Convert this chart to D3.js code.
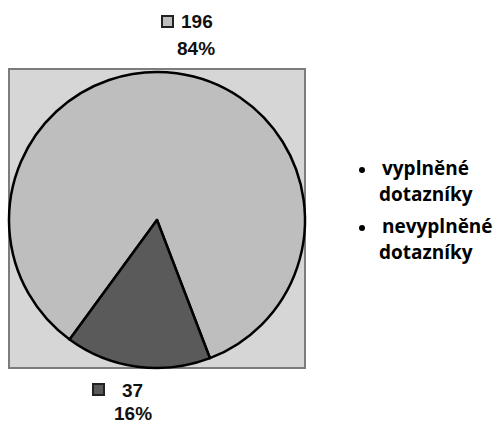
<!DOCTYPE html>
<html lang="cs">
<head>
    <meta charset="UTF-8">
    <title>Dotazníky</title>
    <script src="https://d3js.org/d3.v7.min.js"></script>
    <style>
        body { margin: 0; background: #fff; }
        .val { font-family: "Liberation Sans", Arial, sans-serif; font-weight: bold; font-size: 19px; fill: #111; }
        .leg { font-family: "Open Sans", sans-serif; font-weight: 700; font-size: 19px; fill: #000; }
    </style>
</head>
<body>
    <svg width="497" height="425"></svg>

    <script>
        const categories = ["vyplněné dotazníky", "nevyplněné dotazníky"];
        const counts = [196, 37];
        const percents = ["84%", "16%"];
        const fills = ["#bebebe", "#5a5a5a"];

        const svg = d3.select("svg");
        const cx = 157, cy = 220, r = 148;

        // plot area box
        svg.append("rect")
            .attr("x", 9).attr("y", 69)
            .attr("width", 296).attr("height", 299)
            .attr("fill", "#d6d6d6")
            .attr("stroke", "#7c7c7c")
            .attr("stroke-width", 2);

        // light slice first, dark slice ends ~216 deg
        const pie = d3.pie().sort(null)
            .startAngle(-143.8 * Math.PI / 180)
            .endAngle(216.2 * Math.PI / 180);
        const arcs = pie(counts);
        const arc = d3.arc().innerRadius(0).outerRadius(r);

        const g = svg.append("g").attr("transform", `translate(${cx},${cy})`);
        g.selectAll("path")
            .data(arcs)
            .enter().append("path")
            .attr("d", arc)
            .attr("fill", (d, i) => fills[i])
            .attr("stroke", "#000")
            .attr("stroke-width", 2.5)
            .attr("stroke-linejoin", "round");

        // value labels (top and bottom)
        const labelPos = [
            { sx: 162, sy: 16, tx: 181, ty: 28, px: 177, py: 55 },
            { sx: 93, sy: 384, tx: 122, ty: 397, px: 114, py: 420 }
        ];
        labelPos.forEach((p, i) => {
            svg.append("rect")
                .attr("x", p.sx).attr("y", p.sy)
                .attr("width", 11).attr("height", 11)
                .attr("fill", fills[i])
                .attr("stroke", "#222")
                .attr("stroke-width", 2);
            svg.append("text").attr("class", "val")
                .attr("x", p.tx).attr("y", p.ty)
                .text(counts[i]);
            svg.append("text").attr("class", "val")
                .attr("x", p.px).attr("y", p.py)
                .text(percents[i]);
        });

        // legend as bulleted list, two lines per item
        const legY = [175, 233];
        categories.forEach((c, i) => {
            const words = c.split(" ");
            svg.append("circle")
                .attr("cx", 362).attr("cy", legY[i] - 5)
                .attr("r", 3).attr("fill", "#000");
            const t = svg.append("text").attr("class", "leg")
                .attr("y", legY[i]);
            t.append("tspan").attr("x", 382).text(words[0]);
            t.append("tspan").attr("x", 379).attr("dy", 26).text(words[1]);
        });
    </script>
</body>
</html>
